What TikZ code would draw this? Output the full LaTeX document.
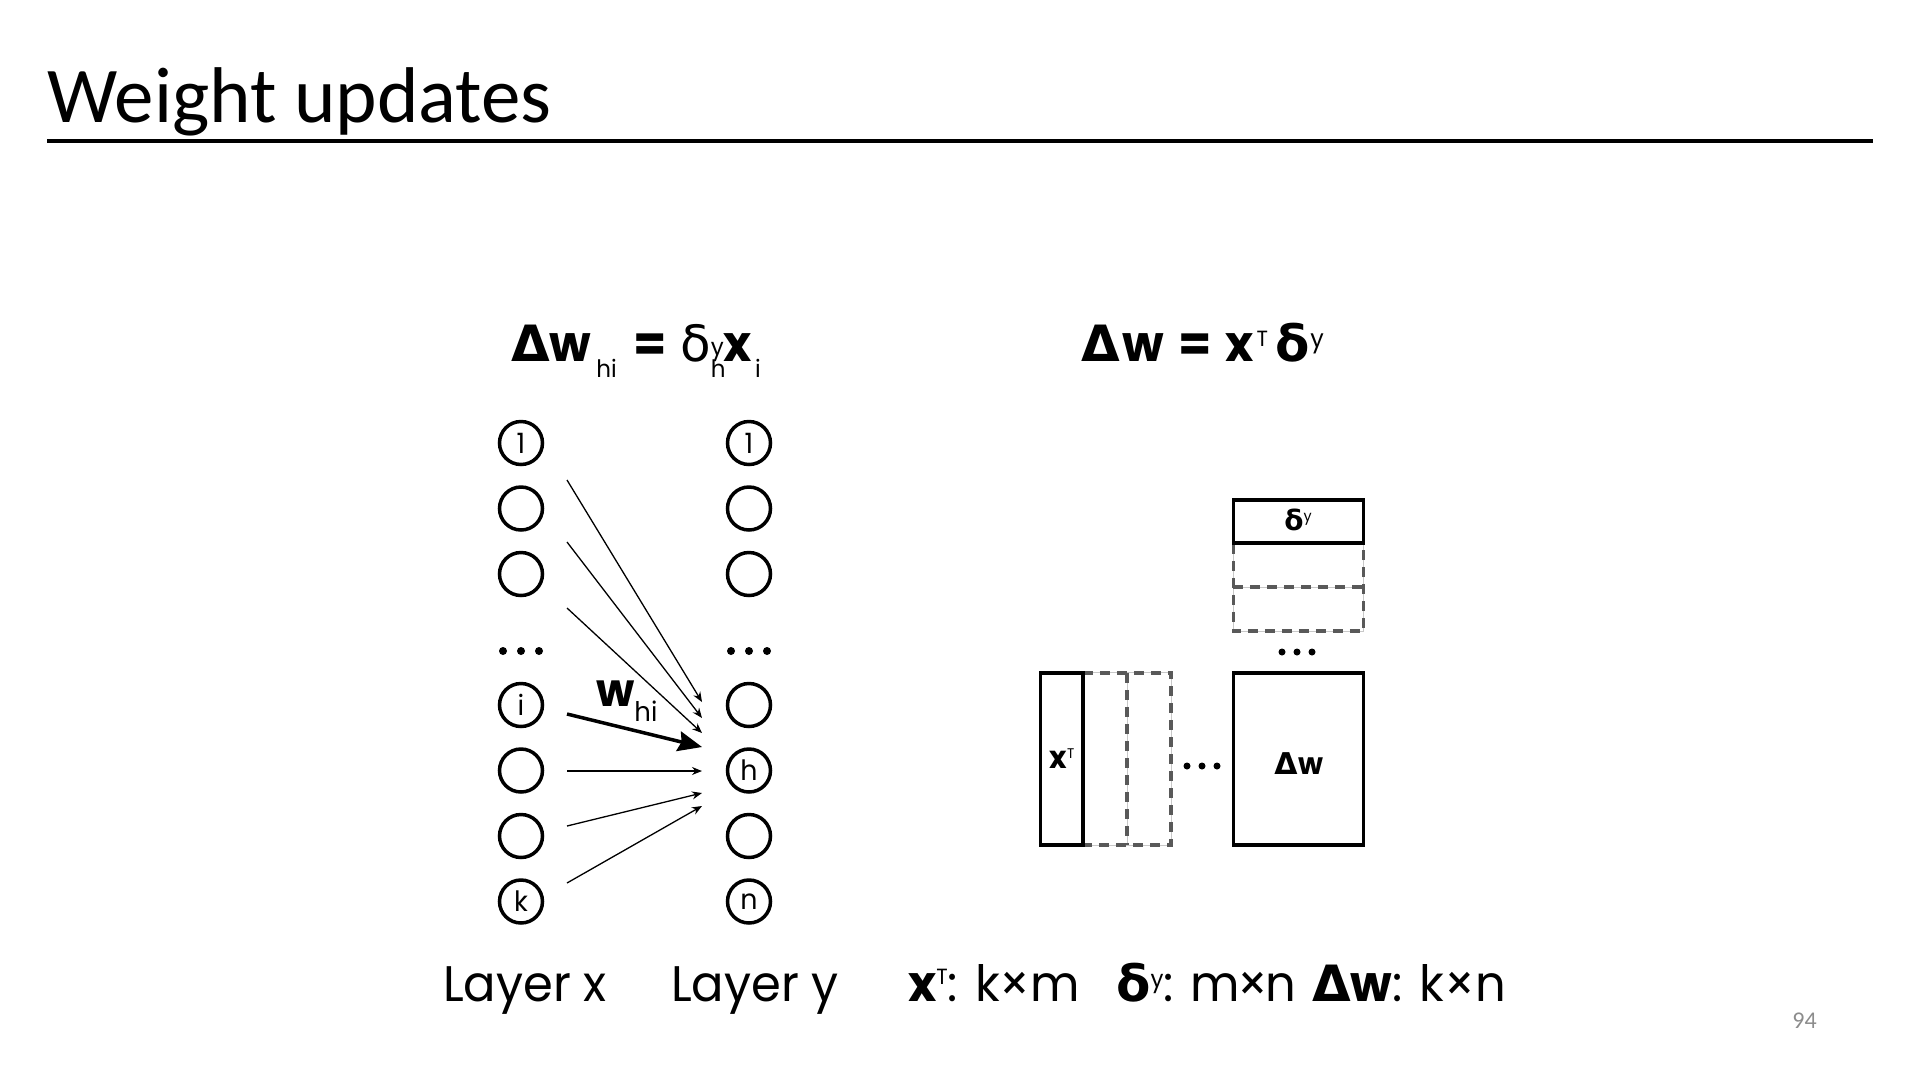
\documentclass[tikz,border=0pt]{standalone}
\usepackage{fontspec}
\setmainfont{Poppins}[FakeStretch=0.96]
\newfontfamily\ttl{Carlito}
\newfontfamily\grk{DejaVu Sans}
\usetikzlibrary{arrows.meta}
\definecolor{dashgray}{HTML}{595959}
\definecolor{faintgray}{HTML}{C8C8C8}
\definecolor{pgnum}{HTML}{8C8C8C}
\newcommand\sbs[1]{\raisebox{-16pt}{\fontsize{24}{24}\selectfont\mdseries #1}}
\newcommand\sps[1]{\raisebox{6pt}{\fontsize{24}{24}\selectfont #1}}
\newcommand\sbsp[2]{\rlap{\sbs{#1}}\sps{#2}}
\begin{document}
\begin{tikzpicture}[x=1pt,y=-1pt,
  neuron/.style={circle,draw,line width=3.5,minimum size=43,inner sep=0,font=\fontsize{28}{28}\selectfont},
  conn/.style={line width=1.3,-{Stealth[length=10,width=8]}},
  thickconn/.style={line width=3.5,-{Stealth[length=24,width=20,inset=3]}},
  matbox/.style={draw,line width=3.5,inner sep=0},
  slot/.style={inner sep=0},
  dashline/.style={draw=dashgray,line width=3.5,dash pattern=on 10pt off 7pt},
  faint/.style={draw=faintgray,line width=1},
  lbl/.style={anchor=base west,inner sep=0,font=\fontsize{50}{50}\selectfont}]
\useasboundingbox (0,0) rectangle (1920,1080);
% title
\node[anchor=base west,inner sep=0] (title) at (47,122) {\ttl\fontsize{79}{79}\selectfont Weight updates};
\coordinate (tl) at (47,141);
\coordinate (tr) at (1873,141);
\draw[line width=4] (tl) -- (tr);
\node[anchor=base east,inner sep=0,text=pgnum] (pg) at (1817,1028) {\ttl\fontsize{24}{24}\selectfont 94};
% equations
\node[lbl] (eqL) at (511,361) {{\grk\bfseries Δ}{\bfseries w}\kern5pt\sbs{hi}\hspace{17pt}{\bfseries =}\hspace{13pt}{\grk δ}\sbsp{h}{y}{\bfseries x}\kern3pt\sbs{i}};
\node[lbl] (eqR) at (1081,361) {{\grk\bfseries Δ}\kern3pt{\bfseries w}\hspace{14pt}{\bfseries =}\hspace{14pt}{\bfseries x}\kern2.5pt\raisebox{15pt}{\fontsize{22}{22}\selectfont T}\kern7pt{\grk\bfseries δ}\kern1pt\raisebox{14pt}{\fontsize{25}{25}\selectfont y}};
% layer x
\node[neuron] (x1) at (521,443) {1};
\node[neuron] (x2) at (521,508.5) {};
\node[neuron] (x3) at (521,574) {};
\node[neuron] (xi) at (521,705) {i};
\node[neuron] (x6) at (521,770.5) {};
\node[neuron] (x7) at (521,836) {};
\node[neuron] (xk) at (521,901.5) {k};
% layer y
\node[neuron] (y1) at (749,443) {1};
\node[neuron] (y2) at (749,508.5) {};
\node[neuron] (y3) at (749,574) {};
\node[neuron] (y5) at (749,705) {};
\node[neuron] (yh) at (749,770.5) {h};
\node[neuron] (y7) at (749,836) {};
\node[neuron] (yn) at (749,901.5) {n};
\foreach \dx in {-18,0,18} {
  \fill (521+\dx,651) circle (4);
  \fill (749+\dx,651) circle (4);
}
% connectors
\coordinate (s1) at (567,480);  \coordinate (e1) at (702,702);
\coordinate (s2) at (567,542);  \coordinate (e2) at (702,718);
\coordinate (s3) at (567,608);  \coordinate (e3) at (702,733);
\coordinate (s4) at (567,714);  \coordinate (e4) at (702,747);
\coordinate (s5) at (567,771);  \coordinate (e5) at (702,771);
\coordinate (s6) at (567,826);  \coordinate (e6) at (702,793);
\coordinate (s7) at (567,883);  \coordinate (e7) at (702,806);
\draw[conn] (s1) -- (e1);
\draw[conn] (s2) -- (e2);
\draw[conn] (s3) -- (e3);
\draw[thickconn] (s4) -- (e4);
\draw[conn] (s5) -- (e5);
\draw[conn] (s6) -- (e6);
\draw[conn] (s7) -- (e7);
\node[anchor=base west,inner sep=0,font=\fontsize{46}{46}\selectfont] (wlab) at (596,706) {\bfseries w\raisebox{-15pt}{\fontsize{27}{27}\selectfont\mdseries hi}};
% delta^y column
\node[slot,minimum width=130,minimum height=43] (dd1) at (1298.5,565.5) {};
\node[slot,minimum width=130,minimum height=44] (dd2) at (1298.5,609) {};
\draw[faint] (dd1.north west) rectangle (dd2.south east);
\draw[faint] (dd1.south west) -- (dd1.south east);
\draw[dashline] (dd1.north west) -- (dd2.south west) -- (dd2.south east) -- (dd1.north east);
\draw[dashline] (dd1.south west) -- (dd1.south east);
\node[matbox,minimum width=130,minimum height=43] (dbox) at (1298.5,521.5) {};
\node[anchor=base,inner sep=0] (dlab) at (1298,530) {\fontsize{28}{28}\selectfont{\grk\bfseries δ}\raisebox{9pt}{\fontsize{15}{15}\selectfont y}};
\foreach \dx in {-15,0,15} \fill (1297+\dx,652) circle (3.5);
% x^T row
\node[slot,minimum width=44,minimum height=172] (xd1) at (1105,759) {};
\node[slot,minimum width=44,minimum height=172] (xd2) at (1149,759) {};
\draw[faint] (xd1.north west) rectangle (xd2.south east);
\draw[faint] (xd1.north east) -- (xd1.south east);
\draw[dashline] (xd1.north west) -- (xd2.north east) -- (xd2.south east) -- (xd1.south west);
\draw[dashline] (xd1.north east) -- (xd1.south east);
\node[matbox,minimum width=42.5,minimum height=172] (xbox) at (1061.75,759) {};
\node[anchor=base,inner sep=0] (xlab) at (1062,768) {\fontsize{31}{31}\selectfont{\bfseries x}\raisebox{10pt}{\fontsize{14}{14}\selectfont T}};
\foreach \dx in {-15,0,15} \fill (1202+\dx,766) circle (3.5);
\node[matbox,minimum width=130,minimum height=172] (wbox) at (1298.5,759) {};
\node[anchor=base,inner sep=0] (wlab2) at (1299,774) {\fontsize{30}{30}\selectfont{\grk\bfseries Δ}\kern1pt{\bfseries w}};
% bottom labels
\node[lbl] (lx) at (443,1001) {Layer x};
\node[lbl] (ly) at (671,1001) {Layer y};
\node[lbl] (lxt) at (908,1001) {{\bfseries x}\raisebox{17pt}{\fontsize{22}{22}\selectfont T}: k×m};
\node[lbl] (ldy) at (1116,1001) {{\grk\bfseries δ}\raisebox{14pt}{\fontsize{24}{24}\selectfont y}: m\kern-3pt×\kern-3pt n};
\node[lbl] (ldw) at (1312,1001) {{\grk\bfseries Δ}{\bfseries w}: k×n};
\end{tikzpicture}
\end{document}
